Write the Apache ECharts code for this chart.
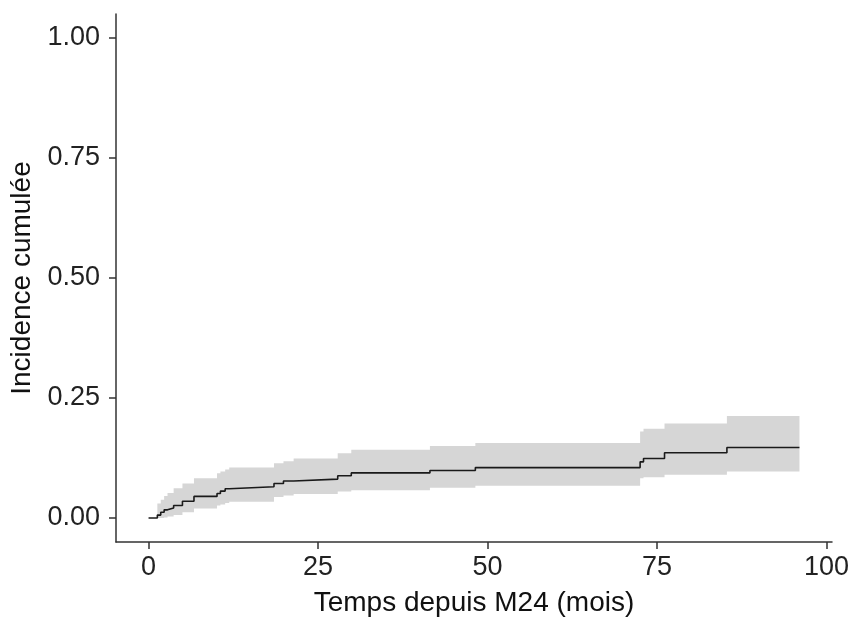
<!DOCTYPE html>
<html>
<head>
<meta charset="utf-8">
<script src="https://cdn.jsdelivr.net/npm/echarts@6/dist/echarts.min.js"></script>
<style>html,body{margin:0;padding:0;background:#fff}#c{width:853px;height:622px}</style>
</head>
<body>
<div id="c"></div>
<script>
const times = [0, 1.3, 1.8, 2.3, 2.8, 3.7, 5.0, 6.7, 10.1, 10.6, 11.3, 11.9, 18.5, 19.9, 21.4, 27.9, 29.9, 41.5, 48.2, 72.5, 73.0, 76.1, 85.3, 96];
const estimate = [0, 0.006, 0.012, 0.017, 0.021, 0.026, 0.035, 0.045, 0.051, 0.056, 0.061, 0.065, 0.072, 0.077, 0.081, 0.088, 0.094, 0.099, 0.105, 0.117, 0.124, 0.136, 0.147, 0.147];
const upper = [0, 0.030, 0.038, 0.046, 0.052, 0.062, 0.072, 0.083, 0.093, 0.097, 0.101, 0.105, 0.114, 0.118, 0.124, 0.135, 0.142, 0.150, 0.156, 0.180, 0.186, 0.197, 0.2125, 0.2125];
const lower = [0, 0, 0, 0.001, 0.003, 0.006, 0.012, 0.020, 0.026, 0.028, 0.031, 0.034, 0.044, 0.047, 0.050, 0.055, 0.058, 0.063, 0.067, 0.083, 0.085, 0.090, 0.097, 0.097];
const xTicks = [0, 25, 50, 75, 100];
const yTicks = [0, 0.25, 0.5, 0.75, 1];
const xTitle = 'Temps depuis M24 (mois)';
const yTitle = 'Incidence cumulée';

const chart = echarts.init(document.getElementById('c'), null, {renderer: 'canvas'});
const font = 'Liberation Sans, Arial, sans-serif';
const axisCol = '#333333';

function stepPts(api, vals) {
  const pts = [];
  for (let i = 0; i < times.length; i++) {
    pts.push(api.coord([times[i], vals[i]]));
    if (i < times.length - 1) pts.push(api.coord([times[i + 1], vals[i]]));
  }
  return pts;
}

chart.setOption({
  animation: false,
  grid: {left: 116, top: 14, right: 21, bottom: 80, containLabel: false},
  xAxis: {
    type: 'value', min: -4.8, max: 100.8,
    name: xTitle, nameLocation: 'middle', nameGap: 47,
    nameTextStyle: {fontFamily: font, fontSize: 28, color: '#111'},
    axisLine: {show: true, onZero: false, lineStyle: {color: axisCol, width: 1.5}},
    axisTick: {show: true, length: 7, customValues: xTicks, lineStyle: {color: axisCol, width: 1.5}},
    axisLabel: {customValues: xTicks, margin: 12, fontFamily: font, fontSize: 27, color: '#222'},
    splitLine: {show: false}
  },
  yAxis: {
    type: 'value', min: -0.05, max: 1.05,
    name: yTitle, nameLocation: 'middle', nameGap: 75,
    nameTextStyle: {fontFamily: font, fontSize: 28, color: '#111'},
    axisLine: {show: true, onZero: false, lineStyle: {color: axisCol, width: 1.5}},
    axisTick: {show: true, length: 7, customValues: yTicks, lineStyle: {color: axisCol, width: 1.5}},
    axisLabel: {customValues: yTicks, margin: 16, fontFamily: font, fontSize: 27, color: '#222',
      formatter: v => v.toFixed(2)},
    splitLine: {show: false}
  },
  series: [
    {
      type: 'custom', silent: true, z: 1,
      data: [[times[0], lower[0]]],
      renderItem: function (params, api) {
        const up = stepPts(api, upper);
        const lo = stepPts(api, lower).reverse();
        return {type: 'polygon', shape: {points: up.concat(lo)}, style: {fill: '#d6d6d6', stroke: null}};
      }
    },
    {
      type: 'line', step: 'end', symbol: 'none', silent: true,
      data: times.map((t, i) => [t, estimate[i]]),
      lineStyle: {color: '#1a1a1a', width: 1.6}, z: 3
    }
  ]
});
</script>
</body>
</html>
